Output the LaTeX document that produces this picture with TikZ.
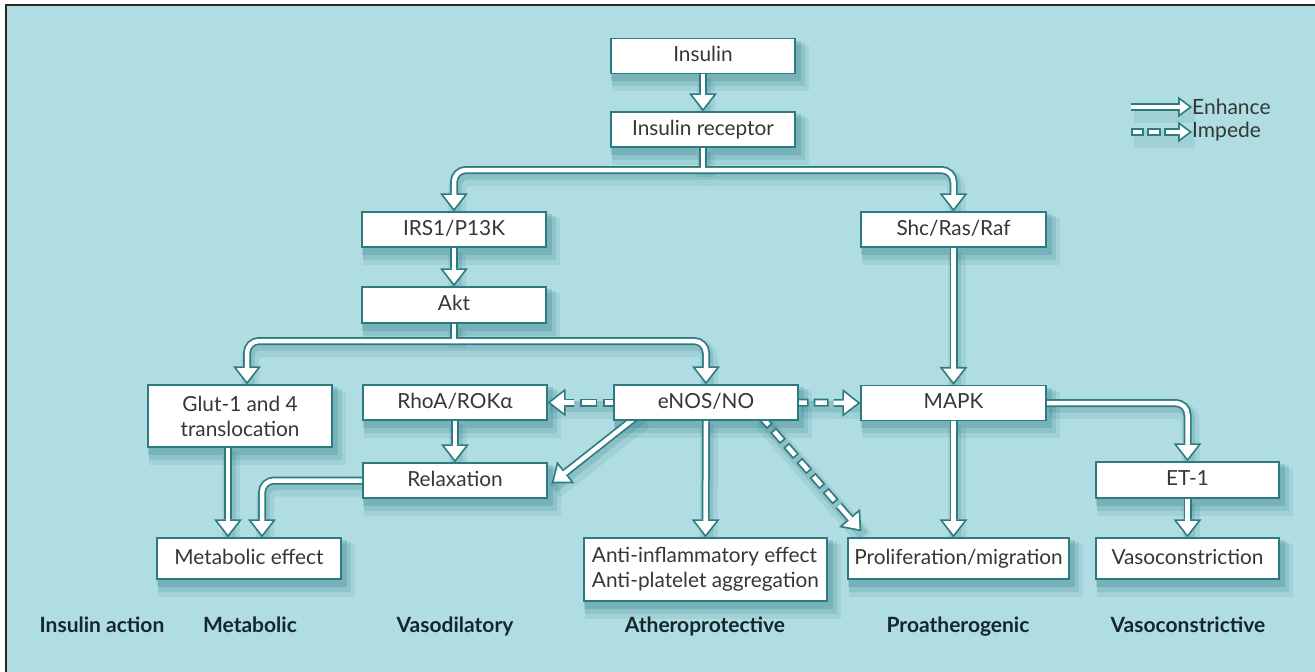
\documentclass[tikz,border=0pt]{standalone}
\usepackage{fontspec}
\setmainfont{Lato}
\usetikzlibrary{arrows.meta,calc}
\definecolor{bgc}{HTML}{AFDDE2}
\definecolor{olc}{HTML}{2C7B81}
\definecolor{shc}{HTML}{1E6E75}
\definecolor{txc}{HTML}{363636}
\definecolor{lbc}{HTML}{15262E}
\pgfdeclarelayer{shl}
\pgfdeclarelayer{arl}
\pgfsetlayers{shl,arl,main}
\tikzset{
  mbox/.style={draw=olc, line width=1.2pt, fill=white, text=txc, inner sep=0pt,
    minimum height=35pt, minimum width=184pt, font=\fontsize{20.8}{25}\selectfont},
  box/.style={mbox, text height=15pt, text depth=4pt},
  ol/.style={draw=olc, line width=8pt},
  wl/.style={draw=white, line width=4.5pt},
  olt/.style={-{Triangle[length=18pt,width=28pt,line width=0pt]}},
  wlt/.style={shorten >=2.84pt, -{Triangle[length=13.4pt,width=20.9pt,line width=0pt]}},
  olts/.style={-{Triangle[length=14pt,width=21pt,line width=0pt]}},
  wlts/.style={shorten >=2.92pt, -{Triangle[length=9.3pt,width=14pt,line width=0pt]}},
  wld/.style={wl, shorten <=1.75pt, shorten >=1.75pt},
  sha/.style={draw=shc, line width=18pt, opacity=0.10, transform canvas={shift={(3pt,-7pt)}}},
  shb/.style={draw=shc, line width=11pt, opacity=0.16, transform canvas={shift={(2pt,-4pt)}}},
  lab/.style={font=\bfseries\fontsize{21}{25}\selectfont, text=lbc, anchor=base},
  leg/.style={font=\fontsize{21}{25}\selectfont, text=txc, anchor=west, inner sep=0pt},
}
\newcommand\solidpass[2]{%
  \draw[#1,#2] (ins.south) -- (rec.north);
  \draw[#1] (rec.south) -- (j1);
  \draw[#1,#2,rounded corners=12pt] (j1) -| (irs.north);
  \draw[#1,#2,rounded corners=12pt] (j1) -| (shc.north);
  \draw[#1,#2] (irs.south) -- (akt.north);
  \draw[#1] (akt.south) -- (j2);
  \draw[#1,#2,rounded corners=12pt] (j2) -| (g0);
  \draw[#1,#2,rounded corners=12pt] (j2) -| (enos.north);
  \draw[#1,#2] (g1) -- (g1 |- meta.north);
  \draw[#1,#2,rounded corners=12pt] (relax.west) -| (m2);
  \draw[#1,#2] (rho.south) -- (relax.north);
  \draw[#1,#2] (e1) -- (r1);
  \draw[#1,#2] (enos.south) -- (anti.north);
  \draw[#1,#2] (shc.south) -- (mapk.north);
  \draw[#1,#2] (mapk.south) -- (mapk.south |- prol.north);
  \draw[#1,#2,rounded corners=12pt] (mapk.east) -| (et.north);
  \draw[#1,#2] (et.south) -- (vaso.north);
}
\newcommand\dashpass[3]{%
  \foreach \a/\b in {-4/10,16/33}
    \draw[#1] ($(enos.west)!\a pt!(rho.east)$) -- ($(enos.west)!\b pt!(rho.east)$);
  \draw[#2,#3] ($(enos.west)!39pt!(rho.east)$) -- (rho.east);
  \foreach \a/\b in {-4/10,15/30}
    \draw[#1] ($(enos.east)!\a pt!(mapk.west)$) -- ($(enos.east)!\b pt!(mapk.west)$);
  \draw[#2,#3] ($(enos.east)!35pt!(mapk.west)$) -- (mapk.west);
  \foreach \a/\b in {-4/17,22/37,42/57,62/77,82/97,102/117}
    \draw[#1] ($(p0)!\a pt!(p1)$) -- ($(p0)!\b pt!(p1)$);
  \draw[#2,#3] ($(p0)!122pt!(p1)$) -- (p1);
}
\begin{document}
\begin{tikzpicture}[x=1pt,y=-1pt]
\useasboundingbox (0,0) rectangle (1315,672);
% boxes
\node[box] (ins) at (703,56) {Insulin};
\node[box] (rec) at (703,129.5) {Insulin receptor};
\node[box] (irs) at (454,229.5) {IRS1/P13K};
\node[box,minimum width=185pt] (shc) at (953.5,229.5) {Shc/Ras/Raf};
\node[box,minimum height=36pt] (akt) at (454,305) {Akt};
\node[mbox,minimum height=62pt,align=center] (glut) at (240,416) {Glut-1 and 4\\translocation};
\node[box] (rho) at (455,402.5) {RhoA/ROKα};
\node[box] (enos) at (706,402.5) {eNOS/NO};
\node[box,minimum width=185pt] (mapk) at (953.5,403) {MAPK};
\node[box] (relax) at (455,480.5) {Relaxation};
\node[box,minimum width=183pt,minimum height=36pt] (et) at (1187.5,480) {ET-1};
\node[box,minimum height=41pt] (meta) at (249,558.5) {Metabolic effect};
\node[mbox,minimum width=243pt,minimum height=63pt,align=left] (anti) at (705.5,569.5) {Anti-inflammatory effect\\Anti-platelet aggregation};
\node[box,minimum width=221pt,minimum height=41pt] (prol) at (958.5,558.5) {Proliferation/migration};
\node[box,minimum width=183pt,minimum height=41pt] (vaso) at (1187.5,558.5) {Vasoconstriction};
% bottom labels
\node[lab] (l1) at (102,632) {Insulin action};
\node[lab] (l2) at (250,632) {Metabolic};
\node[lab] (l3) at (455,632) {Vasodilatory};
\node[lab] (l4) at (705,632) {Atheroprotective};
\node[lab] (l5) at (958,632) {Proatherogenic};
\node[lab] (l6) at (1188,632) {Vasoconstrictive};
% legend
\node[leg] (lenh) at (1192,107) {Enhance};
\node[leg] (limp) at (1192,132) {Impede};
\coordinate (le1) at (1131,107);
\coordinate (le2) at (1131,132);
% helper coordinates
\coordinate (j1) at (703,170);
\coordinate (j2) at (454,341);
\coordinate (g0) at ($(glut.north)+(7,0)$);
\coordinate (g1) at ($(glut.south)+(-12,0)$);
\coordinate (m2) at ($(meta.north)+(13,0)$);
\coordinate (e1) at ($(enos.south west)+(28,-8)$);
\coordinate (r1) at ($(relax.east)+(4,3)$);
\coordinate (p0) at ($(enos.south east)+(-40,-7)$);
\coordinate (p1) at ($(prol.north west)+(14,-6)$);
% background and shadows
\begin{pgfonlayer}{shl}
  \fill[white] (0,0) rectangle (1315,672);
  \fill[bgc] (6,5) rectangle (1315,672);
  \draw[black!85, line width=2.5pt] (6,672) -- (6,5) -- (1315,5);
  \foreach \n in {ins,rec,irs,shc,akt,glut,rho,enos,mapk,relax,et,meta,anti,prol,vaso} {
    \fill[shc,opacity=0.09] ($(\n.north west)+(2,7)$) rectangle ($(\n.south east)+(13,17)$);
    \fill[shc,opacity=0.14] ($(\n.north west)+(2,5)$) rectangle ($(\n.south east)+(9,12)$);
    \fill[shc,opacity=0.20] ($(\n.north west)+(1,3)$) rectangle ($(\n.south east)+(5,7)$);
  }
  \solidpass{sha}{}
  \solidpass{shb}{}
  \draw[sha] (enos.west) -- (rho.east);
  \draw[shb] (enos.west) -- (rho.east);
  \draw[sha] (enos.east) -- (mapk.west);
  \draw[shb] (enos.east) -- (mapk.west);
  \draw[sha] (p0) -- (p1);
  \draw[shb] (p0) -- (p1);
  \draw[sha] (le1) -- (lenh.west);
  \draw[sha] (le2) -- (limp.west);
\end{pgfonlayer}
% arrows
\begin{pgfonlayer}{arl}
  \solidpass{ol}{olt}
  \dashpass{ol}{ol}{olt}
  \draw[ol,olts] (le1) -- (lenh.west);
  \foreach \a/\b in {0/13,16/30}
    \draw[ol] ($(le2)!\a pt!(limp.west)$) -- ($(le2)!\b pt!(limp.west)$);
  \draw[ol,olts] ($(le2)!33pt!(limp.west)$) -- (limp.west);
  \solidpass{wl}{wlt}
  \dashpass{wld}{wl}{wlt}
  \draw[wl,wlts] (le1) -- (lenh.west);
  \foreach \a/\b in {0/13,16/30}
    \draw[wld] ($(le2)!\a pt!(limp.west)$) -- ($(le2)!\b pt!(limp.west)$);
  \draw[wl,shorten <=1.75pt,wlts] ($(le2)!33pt!(limp.west)$) -- (limp.west);
\end{pgfonlayer}
\end{tikzpicture}
\end{document}
